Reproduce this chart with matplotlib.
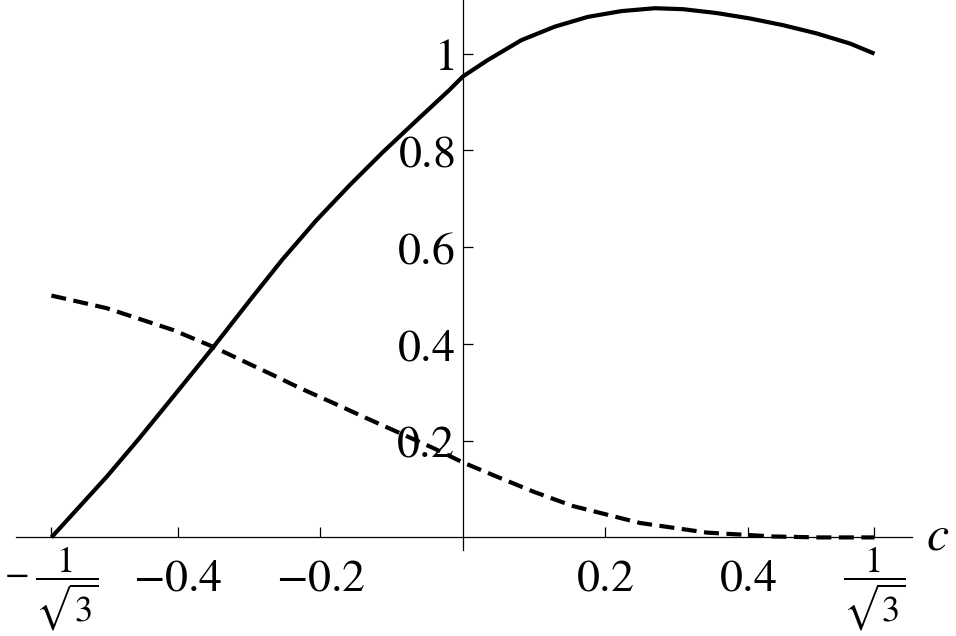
import numpy as np
import matplotlib.pyplot as plt

plt.rcParams['mathtext.fontset'] = 'stix'
plt.rcParams['font.family'] = ['Liberation Serif', 'DejaVu Serif']

r3 = 1 / np.sqrt(3)

# solid curve, values
c_solid = [-r3, -0.5, -0.454, -0.407, -0.352, -0.299, -0.253, -0.206, -0.159, -0.112,
           -0.065, -0.019, 0.0, 0.035, 0.082, 0.129, 0.175, 0.222, 0.269, 0.309,
           0.356, 0.402, 0.449, 0.496, 0.543, r3]
f_solid = [0.0, 0.125, 0.205, 0.29, 0.39, 0.49, 0.575, 0.655, 0.728, 0.797,
           0.862, 0.925, 0.953, 0.987, 1.028, 1.056, 1.076, 1.088, 1.094, 1.092,
           1.084, 1.073, 1.059, 1.042, 1.021, 1.0]

# dashed curve
c_dash = [-r3, -0.5, -0.407, -0.352, -0.267, -0.229, -0.182, -0.136, -0.089, -0.042,
          0.0, 0.047, 0.1, 0.154, 0.248, 0.342, 0.435, 0.5, r3]
f_dash = [0.5, 0.474, 0.429, 0.395, 0.336, 0.309, 0.278, 0.247, 0.216, 0.185,
          0.155, 0.126, 0.094, 0.065, 0.030, 0.010, 0.002, 0.0, 0.0]

xticks = [-r3, -0.4, -0.2, 0.2, 0.4, r3]
xlabels = ['', r'$-0.4$', r'$-0.2$', r'$0.2$', r'$0.4$', '']
frac_pos = [-r3, r3]
frac_labels = [r'$-\;\dfrac{1}{\sqrt{3}}$', r'$\dfrac{1}{\sqrt{3}}$']
yticks = [0.2, 0.4, 0.6, 0.8, 1.0]
ylabels = [r'$0.2$', r'$0.4$', r'$0.6$', r'$0.8$', r'$1$']

fig = plt.figure(figsize=(9.56, 6.36), dpi=100)
ax = fig.add_axes([16 / 956, 86 / 636, 896 / 956, 550 / 636])

ax.plot(c_solid, f_solid, color='black', lw=3.0, solid_capstyle='butt', solid_joinstyle='round')
ax.plot(c_dash, f_dash, color='black', lw=3.0, linestyle=(0, (3.6, 1.8)))

ax.set_xlim(-0.627, 0.630)
ax.set_ylim(-0.026, 1.111)

for s in ['top', 'right']:
    ax.spines[s].set_visible(False)
ax.spines['left'].set_position(('data', 0))
ax.spines['bottom'].set_position(('data', 0))
ax.spines['left'].set_linewidth(0.9)
ax.spines['bottom'].set_linewidth(0.9)

ax.set_xticks(xticks)
ax.set_xticklabels(xlabels)
ax.set_yticks(yticks)
ax.set_yticklabels(ylabels)
ax.tick_params(axis='both', direction='in', length=7.5, width=0.9, labelsize=33)
ax.tick_params(axis='x', pad=38)
ax.tick_params(axis='y', pad=6)
for lab in ax.get_xticklabels():
    lab.set_verticalalignment('baseline')

# the 1/sqrt(3) labels sit a bit higher than the plain numbers
for x, lab in zip(frac_pos, frac_labels):
    ax.annotate(lab, xy=(x, 0), xytext=(0, -35), textcoords='offset points',
                ha='center', va='baseline', fontsize=26, annotation_clip=False)

ax.text(1.016, 0, '$c$', transform=ax.get_yaxis_transform(), fontsize=36,
        ha='left', va='center')

fig.savefig('out.png', dpi=100)
